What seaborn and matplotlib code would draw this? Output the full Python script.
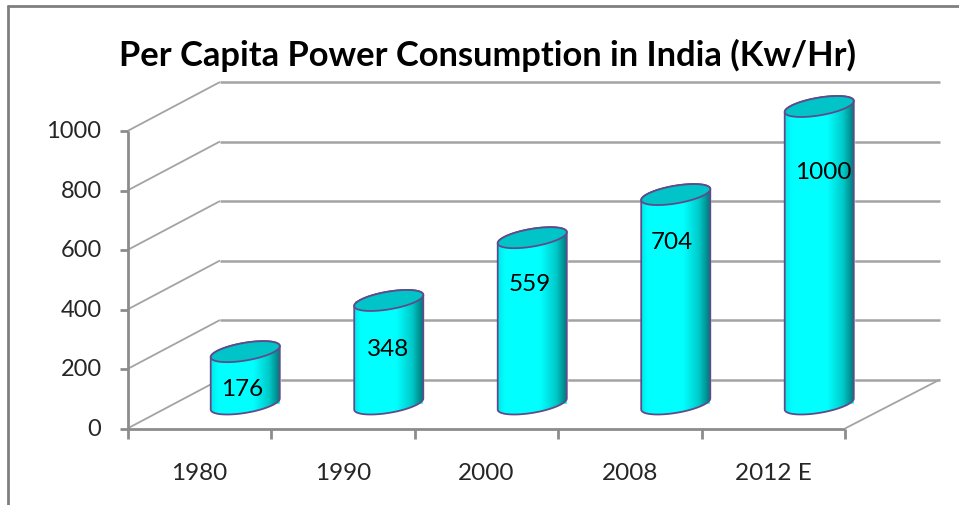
import numpy as np
import pandas as pd
import matplotlib
matplotlib.use("Agg")
import matplotlib.pyplot as plt
from matplotlib.colors import LinearSegmentedColormap
from matplotlib.patches import Polygon
from matplotlib.transforms import Affine2D, IdentityTransform
import seaborn as sns

years = ["1980", "1990", "2000", "2008", "2012 E"]
power = [176, 348, 559, 704, 1000]
y_ticks = [0, 200, 400, 600, 800, 1000]
title = "Per Capita Power Consumption in India (Kw/Hr)"

# nudges of the value labels, in pixels from the top of each bar
label_dx = [-3, -1, -2, -4, 4]
label_dy = [-37, -48, -46, -47, -65]

W, H = 959, 506
GRID = "#a3a3a3"
AXIS = "#8c8c8c"
EDGE = "#5f4b8b"
TOP = "#00c4c8"

# depth of the fake 3D box, pixels
DEPTH_X, DEPTH_Y = 92.5, 49
BAR_X, BAR_Y = 46, 24.5

sns.set_theme(style="white")
plt.rcParams["font.family"] = ["Lato", "DejaVu Sans"]

fig = plt.figure(figsize=(W / 100, H / 100), dpi=100)
ax = fig.add_axes([127.5 / W, 1 - 429.5 / H, (845 - 127.5) / W, (429.5 - 132) / H])

df = pd.DataFrame({"year": years, "power": power})
sns.barplot(data=df, x="year", y="power", color="#00ffff", width=69 / 143.5,
            saturation=1, ax=ax, zorder=3)
ax.set_xlim(-0.5, 4.5)
ax.set_ylim(0, 1000)
ax.set_xlabel("")
ax.set_ylabel("")
sns.despine(ax=ax, left=True, bottom=True, right=True, top=True)
ax.patch.set_alpha(0)
ax.set_xticks([])
ax.set_yticks([])


def px(x, y):
    return ax.transData.transform((x, y))


def line(xs, ys, color=GRID, lw=1.9, z=1):
    ax.plot(xs, ys, color=color, lw=lw, transform=IdentityTransform(),
            clip_on=False, zorder=z, solid_capstyle="butt")


# walls
for t in y_ticks:
    x0, y0 = px(-0.5, t)
    line([x0, x0 + DEPTH_X], [y0, y0 + DEPTH_Y], lw=1.3)
    line([x0 + DEPTH_X, 940], [y0 + DEPTH_Y, y0 + DEPTH_Y], lw=1.8)
    line([x0 - 8, x0], [y0, y0], color=AXIS, lw=2)
    ax.text(x0 - 26, y0, str(t), transform=IdentityTransform(), ha="right", va="center",
            fontsize=17, color="#262626")

# floor
x0, y0 = px(-0.5, 0)
x1, y1 = px(4.5, 0)
line([x0, x0], [y0, px(-0.5, 1000)[1]], color=AXIS, lw=2, z=2)
line([x0, x1], [y0, y0], color=AXIS, lw=2, z=2)
line([x1, 940], [y0, y0 + DEPTH_Y], lw=1.3, z=2)
for i in range(6):
    xt = px(i - 0.5, 0)[0]
    line([xt, xt], [y0, y0 - 10], color=AXIS, lw=2, z=2)
for i, lab in enumerate(years):
    xc = px(i, 0)[0]
    ax.text(xc, y0 - 44, lab, transform=IdentityTransform(), ha="center", va="center",
            fontsize=17.5, color="#262626")

# cylinders
shade = LinearSegmentedColormap.from_list(
    "shade", [(0, "#00eaea"), (0.1, "#00ffff"), (0.62, "#00ffff"), (0.85, "#00c8c8"), (1, "#007a7c")])
A, B, ANG = 35, 8.8, np.radians(9.7)
t = np.linspace(0, 2 * np.pi, 181)[:-1]
ell_x = A * np.cos(t) * np.cos(ANG) - B * np.sin(t) * np.sin(ANG)
ell_y = A * np.cos(t) * np.sin(ANG) + B * np.sin(t) * np.cos(ANG)
i_left, i_right = ell_x.argmin(), ell_x.argmax()
grad = np.linspace(0, 1, 128)[None, :]

for i, bar in enumerate(ax.patches):
    xc = bar.get_x() + bar.get_width() / 2
    bx, by = px(xc, 0) + (BAR_X, BAR_Y)
    tx, ty = px(xc, bar.get_height()) + (BAR_X, BAR_Y)
    bar.set_transform(ax.transData + Affine2D().translate(BAR_X, BAR_Y))
    bar.set_clip_on(False)

    # outline of the body: lower arc of the base, upper arc of the top
    low = np.roll(np.arange(180), -i_left)
    low = low[: (i_right - i_left) % 180 + 1]
    up = np.roll(np.arange(180), -i_right)
    up = up[: (i_left - i_right) % 180 + 1]
    if ell_y[low].mean() > ell_y[up].mean():
        low, up = up[::-1], low[::-1]
    base = np.column_stack([bx + ell_x[low], by + ell_y[low]])
    top = np.column_stack([tx + ell_x[up], ty + ell_y[up]])
    body = Polygon(np.vstack([base, top]), closed=True, transform=IdentityTransform(),
                   facecolor="none", edgecolor=EDGE, lw=1.3, zorder=5, clip_on=False)
    ax.add_patch(body)
    im = ax.imshow(grad, cmap=shade, aspect="auto", zorder=4,
                   extent=(bx - 34.5, bx + 34.5, by - 14, ty + 14),
                   transform=IdentityTransform(), interpolation="bilinear")
    im.set_clip_box(fig.bbox)
    im.set_clip_path(body)
    ax.add_patch(Polygon(np.column_stack([tx + ell_x, ty + ell_y]), closed=True,
                         transform=IdentityTransform(), facecolor=TOP, edgecolor=EDGE,
                         lw=1.3, zorder=6, clip_on=False))
    ax.text(tx + label_dx[i], ty + label_dy[i], str(power[i]), transform=IdentityTransform(),
            ha="center", va="center", fontsize=17.5, color="black", zorder=7)

ax.set_xlim(-0.5, 4.5)
ax.set_ylim(0, 1000)

fig.text(487.5 / W, 1 - 55 / H, title, ha="center", va="center", fontsize=24.8,
         fontweight="bold", color="black")

# outer frame of the pasted chart
fig.add_artist(plt.Line2D([8 / W, 8 / W], [0, 1 - 7 / H], color="#7f7f7f", lw=2))
fig.add_artist(plt.Line2D([8 / W, 1], [1 - 7 / H, 1 - 7 / H], color="#7f7f7f", lw=2))

fig.savefig("out.png", dpi=100)
